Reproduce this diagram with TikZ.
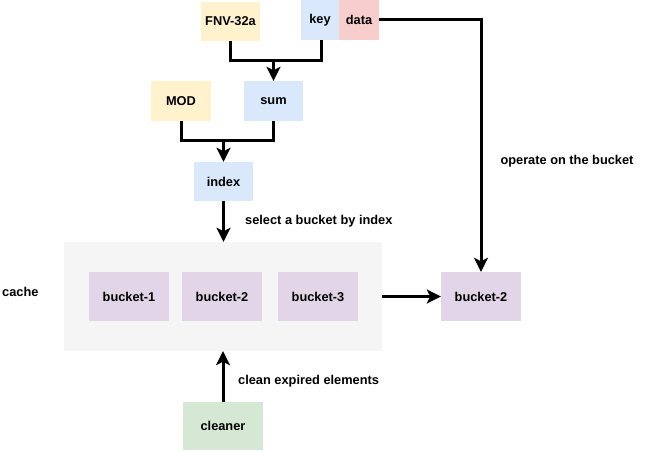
\documentclass[tikz,border=0pt]{standalone}
\usepackage{fontspec}
\setmainfont{Liberation Sans}
\usetikzlibrary{arrows.meta}
\definecolor{cyellow}{HTML}{FFF2CC}
\definecolor{cblue}{HTML}{DAE8FC}
\definecolor{cred}{HTML}{F8CECC}
\definecolor{cpurple}{HTML}{E1D5E7}
\definecolor{cgreen}{HTML}{D5E8D4}
\definecolor{cgray}{HTML}{F5F5F5}
\tikzset{
  box/.style={rectangle, draw=none, inner sep=0pt, font=\bfseries\fontsize{12.8}{15}\selectfont},
  lbl/.style={inner sep=0pt, font=\bfseries\fontsize{12.8}{15}\selectfont},
  conn/.style={line width=3pt, black},
  arr/.style={conn, -{Stealth[length=14pt,width=14pt,inset=3.5pt]}},
}
\begin{document}
\begin{tikzpicture}[x=1pt,y=-1pt]
\useasboundingbox (0,0) rectangle (649,452);
% nodes
\node[box, fill=cyellow, minimum width=59pt, minimum height=39pt] (fnv) at (230.5,21.5) {FNV-32a};
\node[box, fill=cblue, minimum width=38pt, minimum height=40pt] (key) at (320,20) {key};
\node[box, fill=cred, minimum width=40pt, minimum height=40pt] (data) at (359,20) {data};
\node[box, fill=cyellow, minimum width=60pt, minimum height=40pt] (mod) at (181,101) {MOD};
\node[box, fill=cblue, minimum width=59pt, minimum height=40pt] (sum) at (273.5,101) {sum};
\node[box, fill=cblue, minimum width=59pt, minimum height=39pt] (index) at (223.5,181.5) {index};
\node[box, fill=cgray, minimum width=318pt, minimum height=109pt] (cache) at (223,296.5) {};
\node[lbl, anchor=west] (cachelbl) at (2,292) {cache};
\node[box, fill=cpurple, minimum width=80pt, minimum height=49pt] (b1) at (129,296.5) {bucket-1};
\node[box, fill=cpurple, minimum width=80pt, minimum height=49pt] (b2) at (222,296.5) {bucket-2};
\node[box, fill=cpurple, minimum width=80pt, minimum height=49pt] (b3) at (318,296.5) {bucket-3};
\node[box, fill=cpurple, minimum width=80pt, minimum height=49pt] (rb2) at (481,296.5) {bucket-2};
\node[box, fill=cgreen, minimum width=80pt, minimum height=48pt] (cleaner) at (223,426) {cleaner};
% labels
\node[lbl] (opl) at (567,161) {operate on the bucket};
\node[lbl, anchor=west] (sell) at (245,221.5) {select a bucket by index};
\node[lbl, anchor=west] (cll) at (238,381.5) {clean expired elements};
% connectors
\coordinate (j1) at (273.5,61);
\coordinate (j2) at (223.5,141);
\draw[conn] (fnv.south) |- (j1) -| ([xshift=1.5pt]key.south);
\draw[arr] (j1) -- (sum.north);
\draw[conn] (mod.south) |- (j2) -| (sum.south);
\draw[arr] (j2) -- (index.north);
\draw[arr] (index.south) -- (index.south |- cache.north);
\draw[arr] (cache.east) -- (rb2.west);
\draw[arr] (data.east) -| (rb2.north);
\draw[arr] (cleaner.north) -- (cleaner.north |- cache.south);
\end{tikzpicture}
\end{document}
